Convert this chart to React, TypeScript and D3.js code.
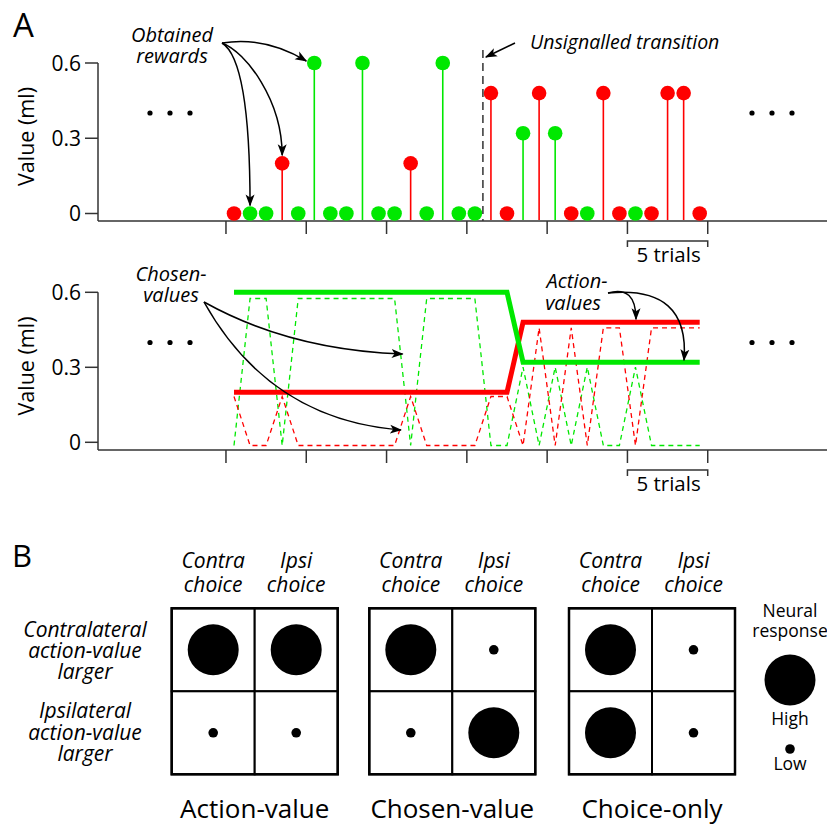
import React from "react";
import * as d3 from "d3";

// ---------- Data ----------
const trials = d3.range(30);
// choice per trial: "R" red, "G" green
const choices = ["R","G","G","R","G","G","G","G","G","G","G","R","G","G","G","G","R","R","G","R","G","R","G","R","R","G","R","R","R","R"];
const rewards = [0,0,0,0.2,0,0.6,0,0,0.6,0,0,0.2,0,0.6,0,0,0.48,0,0.32,0.48,0.32,0,0,0.48,0,0,0,0.48,0.48,0];
const actionValueGreen = [0.6,0.6,0.6,0.6,0.6,0.6,0.6,0.6,0.6,0.6,0.6,0.6,0.6,0.6,0.6,0.6,0.6,0.6,0.32,0.32,0.32,0.32,0.32,0.32,0.32,0.32,0.32,0.32,0.32,0.32];
const actionValueRed = [0.2,0.2,0.2,0.2,0.2,0.2,0.2,0.2,0.2,0.2,0.2,0.2,0.2,0.2,0.2,0.2,0.2,0.2,0.48,0.48,0.48,0.48,0.48,0.48,0.48,0.48,0.48,0.48,0.48,0.48];
const chosenValueGreen = [0,0.6,0.6,0,0.6,0.6,0.6,0.6,0.6,0.6,0.6,0,0.6,0.6,0.6,0.6,0,0,0.32,0,0.32,0,0.32,0,0,0.32,0,0,0,0];
const chosenValueRed = [0.2,0,0,0.2,0,0,0,0,0,0,0,0.2,0,0,0,0,0.2,0.2,0,0.48,0,0.48,0,0.48,0.48,0,0.48,0.48,0.48,0.48];
const transitionAfterTrial = 15.5;
const yTicks = [0, 0.3, 0.6];
const yTickLabels = ["0", "0.3", "0.6"];
const xTickTrials = [-0.5, 4.5, 9.5, 14.5, 19.5, 24.5, 29.5];
const bracketTrials = [24.5, 29.5];

// Panel B
const panelTitles = ["Action-value", "Chosen-value", "Choice-only"];
const colHeaders = [["Contra", "choice"], ["Ipsi", "choice"]];
const rowLabels = [["Contralateral", "action-value", "larger"], ["Ipsilateral", "action-value", "larger"]];
// responses[model][row][col]
const responses = [
  [["High", "High"], ["Low", "Low"]],
  [["High", "Low"], ["Low", "High"]],
  [["High", "Low"], ["High", "Low"]],
];
const legendLevels = ["High", "Low"];

const RED = "#ff0000";
const GREEN = "#00e800";
const FONT = "'Open Sans', 'DejaVu Sans', sans-serif";

export default function App() {
  const x = d3.scaleLinear().domain([0, 29]).range([234, 699.7]);
  const yTop = d3.scaleLinear().domain([0, 0.6]).range([213.5, 63]);
  const yBot = d3.scaleLinear().domain([0, 0.6]).range([442.3, 292.3]);
  const yBotDash = d3.scaleLinear().domain([0, 0.6]).range([445.5, 298.5]);
  const axisTop = 221;
  const axisBot = 450;
  const axisX = 98;

  const thickLine = d3.line<number>().x((_, i) => x(i)).y((v) => yBot(v));
  const dashLine = d3.line<number>().x((_, i) => x(i)).y((v) => yBotDash(v));

  const colorOf = (c: string) => (c === "R" ? RED : GREEN);

  const dotsEllipsis = (cy: number) =>
    [150, 170, 190, 752, 772, 792].map((cx) => (
      <circle key={`${cx}-${cy}`} cx={cx} cy={cy} r={2.6} fill="#000" />
    ));

  const yAxis = (scale: d3.ScaleLinear<number, number>, top: number, bottom: number, key: string) => (
    <g key={key}>
      <line x1={axisX} x2={axisX} y1={scale(0.6)} y2={bottom} stroke="#333" strokeWidth={1.5} />
      {yTicks.map((t, i) => (
        <g key={t}>
          <line x1={axisX - 13} x2={axisX} y1={scale(t)} y2={scale(t)} stroke="#333" strokeWidth={1.5} />
          <text x={axisX - 17} y={scale(t) + 7.5} textAnchor="end" fontSize={21} fontFamily={FONT}>
            {yTickLabels[i]}
          </text>
        </g>
      ))}
      <line x1={axisX} x2={827} y1={bottom} y2={bottom} stroke="#333" strokeWidth={1.5} />
      {xTickTrials.map((t) => (
        <line key={t} x1={x(t)} x2={x(t)} y1={bottom} y2={bottom + 13} stroke="#333" strokeWidth={1.5} />
      ))}
      <path
        d={`M${x(bracketTrials[0])},${bottom + 26} V${bottom + 20} H${x(bracketTrials[1])} V${bottom + 26}`}
        fill="none"
        stroke="#333"
        strokeWidth={1.5}
      />
      <text x={(x(bracketTrials[0]) + x(bracketTrials[1])) / 2 + 1} y={bottom + 41} textAnchor="middle" fontSize={20.5} fontFamily={FONT}>
        5 trials
      </text>
      <text
        transform={`translate(34,${(top + bottom) / 2 - 5}) rotate(-90)`}
        textAnchor="middle"
        fontSize={21.5}
        fontFamily={FONT}
      >
        Value (ml)
      </text>
    </g>
  );

  // Panel B geometry
  const gridLefts = [171.7, 369.3, 569];
  const gridTop = 608.3;
  const cell = 83;
  const rScale = d3.scaleOrdinal<string, number>().domain(legendLevels).range([25.5, 4.8]);

  return (
    <div style={{ position: "fixed", top: 0, left: 0, width: 827, height: 827, background: "#fff" }}>
      <svg width={827} height={827} viewBox="0 0 827 827" style={{ display: "block" }}>
        <defs>
          <marker id="arr" viewBox="0 -5 12 10" refX={11} refY={0} markerWidth={12} markerHeight={10} markerUnits="userSpaceOnUse" orient="auto">
            <path d="M0,-4.5 L12,0 L0,4.5 L3,0 Z" fill="#000" />
          </marker>
        </defs>
        <rect width={827} height={827} fill="#fff" />

        {/* ---------- Panel A top ---------- */}
        <text x={13} y={37} fontSize={33} fontFamily={FONT}>A</text>
        {yAxis(yTop, 62, axisTop, "top")}
        {dotsEllipsis(113)}
        {trials.map((i) =>
          rewards[i] > 0 ? (
            <line key={`s${i}`} x1={x(i)} x2={x(i)} y1={yTop(rewards[i])} y2={axisTop - 1} stroke={colorOf(choices[i])} strokeWidth={1.6} />
          ) : null
        )}
        {trials.map((i) => (
          <circle key={`c${i}`} cx={x(i)} cy={yTop(rewards[i])} r={7.3} fill={colorOf(choices[i])} />
        ))}
        <line x1={x(transitionAfterTrial)} x2={x(transitionAfterTrial)} y1={50} y2={axisTop} stroke="#333" strokeWidth={1.5} strokeDasharray="8,5" />

        {/* annotations top */}
        <g fontFamily={FONT} fontStyle="italic" fontSize={20} textAnchor="middle">
          <text x={172} y={42}>Obtained</text>
          <text x={172} y={63}>rewards</text>
        </g>
        <g fill="none" stroke="#000" strokeWidth={1.5}>
          <path d={`M222,43 Q250,60 ${x(1)},${yTop(0) - 8}`} markerEnd="url(#arr)" />
          <path d={`M222,43 C246,52 ${x(3)},100 ${x(3)},${yTop(0.2) - 8}`} markerEnd="url(#arr)" />
          <path d={`M222,43 Q265,36 ${x(5) - 8},${yTop(0.6) - 2}`} markerEnd="url(#arr)" />
          <path d={`M515,43 L${x(transitionAfterTrial) + 3},57`} markerEnd="url(#arr)" />
        </g>
        <text x={530} y={49} fontFamily={FONT} fontStyle="italic" fontSize={19.5}>Unsignalled transition</text>

        {/* ---------- Panel A bottom ---------- */}
        {yAxis(yBot, 292, axisBot, "bot")}
        {dotsEllipsis(342.5)}
        <path d={dashLine(chosenValueGreen) || ""} fill="none" stroke={GREEN} strokeWidth={1.3} strokeDasharray="5,4" />
        <path d={dashLine(chosenValueRed) || ""} fill="none" stroke={RED} strokeWidth={1.3} strokeDasharray="5,4" />
        <path d={thickLine(actionValueRed) || ""} fill="none" stroke={RED} strokeWidth={5} />
        <path d={thickLine(actionValueGreen) || ""} fill="none" stroke={GREEN} strokeWidth={5} />

        <g fontFamily={FONT} fontStyle="italic" fontSize={20} textAnchor="middle">
          <text x={171} y={281}>Chosen-</text>
          <text x={171} y={302}>values</text>
          <text x={577} y={288}>Action-</text>
          <text x={573} y={310}>values</text>
        </g>
        <g fill="none" stroke="#000" strokeWidth={1.5}>
          <path d={`M204,302 Q290,350 ${x(10.5)},354`} markerEnd="url(#arr)" />
          <path d={`M204,302 Q270,420 ${x(10.4)},430`} markerEnd="url(#arr)" />
          <path d={`M608,293 Q636,285 636,${yBot(0.48) - 3}`} markerEnd="url(#arr)" />
          <path d={`M608,293 Q690,285 684,${yBot(0.32) - 2}`} markerEnd="url(#arr)" />
        </g>

        {/* ---------- Panel B ---------- */}
        <text x={12} y={567} fontSize={31} fontFamily={FONT}>B</text>
        <g fontFamily={FONT} fontStyle="italic" fontSize={21} textAnchor="middle">
          {rowLabels.map((lines, r) =>
            lines.map((ln, j) => (
              <text key={`rl${r}${j}`} x={85} y={636.7 + r * 81.6 + j * 21.2}>{ln}</text>
            ))
          )}
        </g>
        {responses.map((grid, m) => {
          const gx = gridLefts[m];
          return (
            <g key={`g${m}`}>
              <g fontFamily={FONT} fontStyle="italic" fontSize={21} textAnchor="middle">
                {colHeaders.map((lines, c) =>
                  lines.map((ln, j) => (
                    <text key={`h${c}${j}`} x={gx + cell * c + cell / 2} y={568.3 + j * 23.4}>{ln}</text>
                  ))
                )}
              </g>
              {grid.map((row, r) =>
                row.map((lvl, c) => (
                  <g key={`cell${r}${c}`}>
                    <rect x={gx + c * cell} y={gridTop + r * cell} width={cell} height={cell} fill="#fff" stroke="#000" strokeWidth={2} />
                    <circle cx={gx + c * cell + cell / 2} cy={gridTop + r * cell + cell / 2} r={rScale(lvl)} fill="#000" />
                  </g>
                ))
              )}
              <rect x={gx} y={gridTop} width={cell * 2} height={cell * 2} fill="none" stroke="#000" strokeWidth={2.5} />
              <text x={gx + cell} y={818} textAnchor="middle" fontFamily={FONT} fontSize={26}>
                {panelTitles[m]}
              </text>
            </g>
          );
        })}

        {/* legend */}
        <g fontFamily={FONT} fontSize={17.5} textAnchor="middle">
          <text x={790} y={617}>Neural</text>
          <text x={790} y={637}>response</text>
          <circle cx={790} cy={680} r={rScale("High")} fill="#000" />
          <text x={790} y={725}>High</text>
          <circle cx={790} cy={749} r={rScale("Low")} fill="#000" />
          <text x={790} y={770}>Low</text>
        </g>
      </svg>
    </div>
  );
}
